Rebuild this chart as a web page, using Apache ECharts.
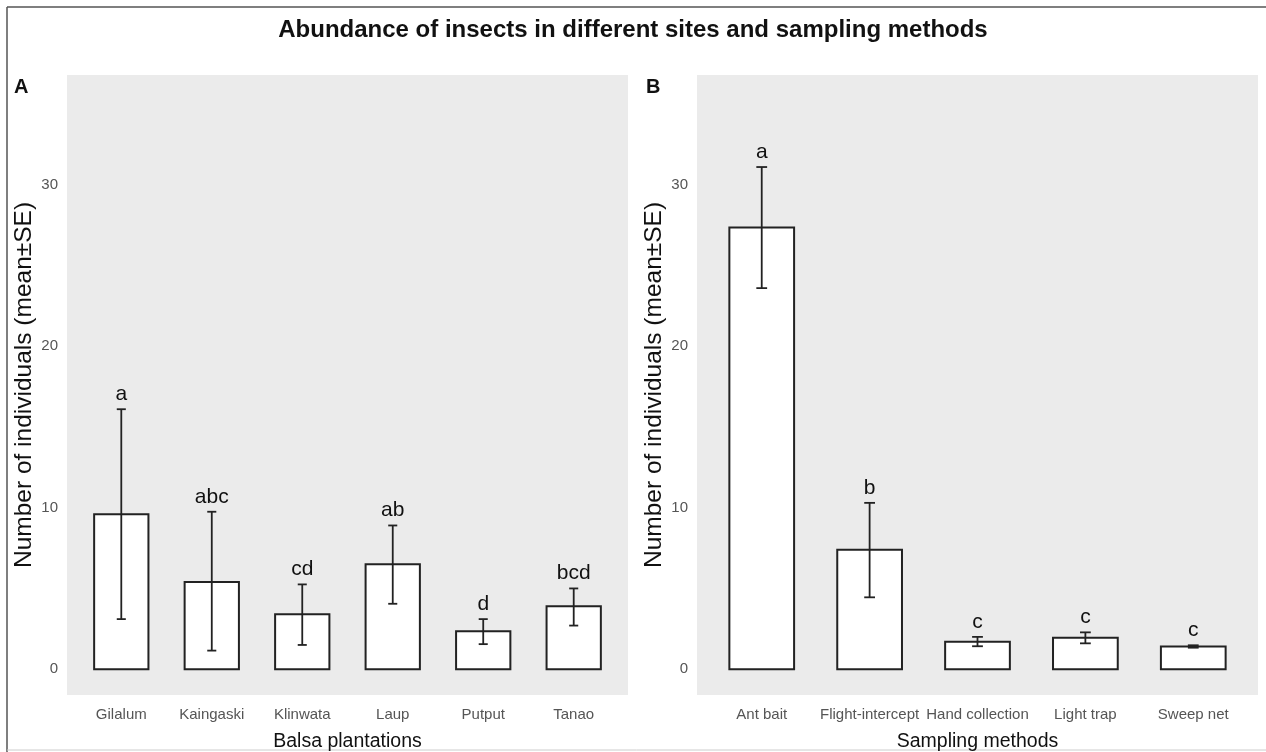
<!DOCTYPE html>
<html>
<head>
<meta charset="utf-8">
<script src="https://cdn.jsdelivr.net/npm/echarts@6/dist/echarts.min.js"></script>
<style>
  html, body { margin: 0; padding: 0; background: #fff; }
  #chart { width: 1266px; height: 752px; }
</style>
</head>
<body>
<div id="chart"></div>
<script>
// ---- Data ----
const catsA = ['Gilalum', 'Kaingaski', 'Klinwata', 'Laup', 'Putput', 'Tanao'];
const meanA = [9.6, 5.4, 3.4, 6.5, 2.35, 3.9];
const lowA = [3.1, 1.15, 1.5, 4.05, 1.55, 2.7];
const highA = [16.1, 9.75, 5.25, 8.9, 3.1, 5.0];
const letterA = ['a', 'abc', 'cd', 'ab', 'd', 'bcd'];

const catsB = ['Ant bait', 'Flight-intercept', 'Hand collection', 'Light trap', 'Sweep net'];
const meanB = [27.35, 7.4, 1.7, 1.95, 1.4];
const lowB = [23.6, 4.45, 1.42, 1.6, 1.33];
const highB = [31.1, 10.3, 2.0, 2.28, 1.48];
const letterB = ['a', 'b', 'c', 'c', 'c'];

const yTicks = [0, 10, 20, 30];

const FONT = 'Liberation Sans, Arial, Helvetica, sans-serif';
const INK = '#222';

function makeRender(letters) {
  return function (params, api) {
    const x = api.value(0), m = api.value(1), lo = api.value(2), hi = api.value(3);
    const p0 = api.coord([x - 0.3, m]);
    const p1 = api.coord([x + 0.3, 0]);
    const top = api.coord([x, hi]);
    const bot = api.coord([x, lo]);
    const capHalf = api.coord([x + 0.05, hi])[0] - top[0];
    return {
      type: 'group',
      children: [
        { type: 'rect', shape: { x: p0[0], y: p0[1], width: p1[0] - p0[0], height: p1[1] - p0[1] },
          style: { fill: '#fff', stroke: INK, lineWidth: 2 } },
        { type: 'line', shape: { x1: top[0], y1: top[1], x2: bot[0], y2: bot[1] },
          style: { stroke: INK, lineWidth: 1.8 } },
        { type: 'line', shape: { x1: top[0] - capHalf, y1: top[1], x2: top[0] + capHalf, y2: top[1] },
          style: { stroke: INK, lineWidth: 1.8 } },
        { type: 'line', shape: { x1: bot[0] - capHalf, y1: bot[1], x2: bot[0] + capHalf, y2: bot[1] },
          style: { stroke: INK, lineWidth: 1.8 } },
        { type: 'text', style: { text: letters[params.dataIndex], x: top[0], y: top[1] - 15,
          textAlign: 'center', textVerticalAlign: 'middle', fontSize: 21, fontFamily: FONT, fill: '#111' } }
      ]
    };
  };
}

function xAxisFor(cats, gridIndex, name) {
  return {
    type: 'value', gridIndex: gridIndex, min: 0.4, max: cats.length + 0.6,
    axisLine: { show: false }, axisTick: { show: false }, splitLine: { show: false },
    axisLabel: {
      customValues: cats.map((c, i) => i + 1),
      formatter: v => cats[Math.round(v) - 1] || '',
      fontSize: 15, color: '#555', margin: 12, fontFamily: FONT
    },
    name: name, nameLocation: 'middle', nameGap: 37,
    nameTextStyle: { fontSize: 19.5, color: '#111', fontFamily: FONT }
  };
}

function yAxisFor(gridIndex) {
  return {
    type: 'value', gridIndex: gridIndex, min: -1.6, max: 36.8,
    axisLine: { show: false }, axisTick: { show: false }, splitLine: { show: false },
    axisLabel: { customValues: yTicks, fontSize: 15, color: '#555', margin: 9, fontFamily: FONT },
    name: 'Number of individuals (mean±SE)', nameLocation: 'middle', nameGap: 30,
    nameTextStyle: { fontSize: 24.5, color: '#111', fontFamily: FONT }
  };
}

const chart = echarts.init(document.getElementById('chart'), null, { renderer: 'canvas' });
chart.setOption({
  animation: false,
  backgroundColor: '#fff',
  title: {
    text: 'Abundance of insects in different sites and sampling methods',
    left: 'center', top: 13,
    textStyle: { fontSize: 24, fontWeight: 'bold', color: '#111', fontFamily: FONT }
  },
  graphic: [
    { type: 'line', shape: { x1: 7, y1: 7, x2: 1266, y2: 7 }, style: { stroke: '#555', lineWidth: 1.5 } },
    { type: 'line', shape: { x1: 7, y1: 7, x2: 7, y2: 752 }, style: { stroke: '#555', lineWidth: 1.5 } },
    { type: 'line', shape: { x1: 7, y1: 750, x2: 1266, y2: 750 }, style: { stroke: '#ccc', lineWidth: 1 } },
    { type: 'text', left: 14, top: 77, style: { text: 'A', fontSize: 20, fontWeight: 'bold', fontFamily: FONT, fill: '#111' } },
    { type: 'text', left: 646, top: 77, style: { text: 'B', fontSize: 20, fontWeight: 'bold', fontFamily: FONT, fill: '#111' } }
  ],
  grid: [
    { left: 67, top: 75, width: 561, bottom: 57, show: true, backgroundColor: '#ebebeb', borderWidth: 0, outerBoundsMode: 'none', containLabel: false },
    { left: 697, top: 75, width: 561, bottom: 57, show: true, backgroundColor: '#ebebeb', borderWidth: 0, outerBoundsMode: 'none', containLabel: false }
  ],
  xAxis: [xAxisFor(catsA, 0, 'Balsa plantations'), xAxisFor(catsB, 1, 'Sampling methods')],
  yAxis: [yAxisFor(0), yAxisFor(1)],
  series: [
    {
      type: 'custom', xAxisIndex: 0, yAxisIndex: 0, clip: false,
      renderItem: makeRender(letterA),
      encode: { x: 0, y: [1, 2, 3] },
      data: catsA.map((c, i) => [i + 1, meanA[i], lowA[i], highA[i]])
    },
    {
      type: 'custom', xAxisIndex: 1, yAxisIndex: 1, clip: false,
      renderItem: makeRender(letterB),
      encode: { x: 0, y: [1, 2, 3] },
      data: catsB.map((c, i) => [i + 1, meanB[i], lowB[i], highB[i]])
    }
  ]
});
</script>
</body>
</html>
